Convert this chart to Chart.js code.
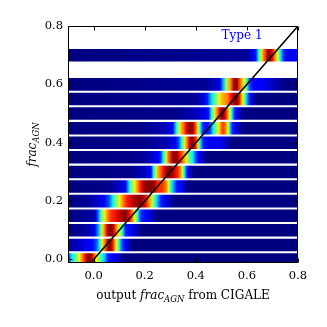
<!DOCTYPE html>
<html>
<head>
<meta charset="utf-8">
<script src="https://cdn.jsdelivr.net/npm/chart.js@4/dist/chart.umd.min.js"></script>
<style>
  html, body { margin: 0; padding: 0; background: #ffffff; }
  #wrap { width: 327px; height: 327px; }
</style>
</head>
<body>
<div id="wrap"><canvas id="c" width="327" height="327"></canvas></div>
<script>
// ---- data ----
// input frac_AGN of each strip
const stripLevels = [0.0, 0.05, 0.10, 0.15, 0.20, 0.25, 0.30, 0.35, 0.40, 0.45, 0.50, 0.55, 0.60, 0.70];

// each strip: [output frac_AGN, normalised likelihood] control points
const strip00 = [[-0.1,0.12],[-0.093,0.25],[-0.085,0.36],[-0.075,0.4],[-0.065,0.55],[-0.055,0.65],[-0.045,0.77],[-0.035,0.88],[-0.025,0.97],[-0.015,1.0],[-0.005,0.92],[0.003,0.8],[0.012,0.65],[0.022,0.5],[0.032,0.38],[0.042,0.33],[0.055,0.15],[0.075,0.11],[0.09,0.08],[0.11,0.02],[0.13,0],[0.8,0]];
const strip05 = [[-0.1,0.02],[-0.07,0.05],[-0.03,0.1],[-0.005,0.13],[0.01,0.2],[0.023,0.36],[0.033,0.62],[0.045,0.8],[0.055,0.95],[0.062,1.0],[0.07,0.95],[0.078,0.85],[0.088,0.64],[0.1,0.4],[0.112,0.2],[0.125,0.12],[0.14,0.05],[0.15,0],[0.8,0]];
const strip10 = [[-0.1,0],[-0.05,0.02],[-0.01,0.05],[0.005,0.12],[0.02,0.3],[0.03,0.55],[0.04,0.72],[0.047,0.85],[0.057,0.97],[0.065,1.0],[0.075,0.97],[0.083,0.88],[0.09,0.75],[0.1,0.6],[0.108,0.5],[0.115,0.36],[0.125,0.15],[0.15,0.1],[0.175,0.03],[0.19,0],[0.8,0]];
const strip15 = [[-0.1,0],[0.0,0.03],[0.01,0.1],[0.022,0.3],[0.03,0.45],[0.042,0.64],[0.055,0.77],[0.068,0.86],[0.09,0.9],[0.11,0.97],[0.125,1.0],[0.14,0.9],[0.15,0.8],[0.16,0.64],[0.172,0.38],[0.186,0.16],[0.21,0.12],[0.23,0.05],[0.25,0],[0.8,0]];
const strip20 = [[-0.1,0],[-0.02,0.02],[0.01,0.06],[0.04,0.1],[0.06,0.2],[0.075,0.36],[0.088,0.5],[0.101,0.64],[0.115,0.77],[0.13,0.88],[0.155,0.95],[0.18,1.0],[0.2,0.93],[0.21,0.85],[0.22,0.72],[0.232,0.55],[0.245,0.36],[0.26,0.18],[0.275,0.11],[0.3,0.04],[0.32,0],[0.8,0]];
const strip25 = [[-0.1,0],[0.06,0.01],[0.1,0.06],[0.125,0.13],[0.14,0.36],[0.153,0.55],[0.16,0.64],[0.173,0.77],[0.183,0.88],[0.2,0.98],[0.22,1.0],[0.238,0.97],[0.25,0.88],[0.27,0.85],[0.284,0.77],[0.292,0.64],[0.3,0.45],[0.31,0.32],[0.325,0.15],[0.345,0.1],[0.37,0],[0.8,0]];
const strip30 = [[-0.1,0],[0.15,0.01],[0.2,0.06],[0.225,0.13],[0.234,0.36],[0.245,0.6],[0.258,0.77],[0.271,0.88],[0.285,0.97],[0.3,1.0],[0.315,0.93],[0.33,0.87],[0.34,0.75],[0.347,0.62],[0.356,0.36],[0.366,0.14],[0.38,0.05],[0.39,0],[0.8,0]];
const strip35 = [[-0.1,0],[0.18,0.01],[0.22,0.05],[0.255,0.12],[0.264,0.2],[0.272,0.36],[0.284,0.62],[0.297,0.85],[0.31,0.97],[0.322,1.0],[0.336,0.9],[0.348,0.8],[0.362,0.66],[0.375,0.45],[0.388,0.36],[0.4,0.2],[0.41,0.12],[0.425,0.06],[0.44,0],[0.8,0]];
const strip40 = [[-0.1,0],[0.19,0.01],[0.28,0.04],[0.32,0.1],[0.333,0.2],[0.343,0.36],[0.356,0.62],[0.365,0.77],[0.373,0.9],[0.383,1.0],[0.393,0.95],[0.402,0.85],[0.408,0.65],[0.417,0.36],[0.43,0.14],[0.46,0.1],[0.49,0.11],[0.515,0.06],[0.545,0],[0.8,0]];
const strip45 = [[-0.1,0],[0.19,0.01],[0.28,0.05],[0.31,0.12],[0.323,0.36],[0.336,0.62],[0.349,0.77],[0.362,0.9],[0.375,1.0],[0.388,0.97],[0.395,0.88],[0.402,0.77],[0.408,0.62],[0.417,0.38],[0.428,0.15],[0.445,0.14],[0.458,0.2],[0.467,0.36],[0.48,0.5],[0.488,0.64],[0.499,0.78],[0.506,0.86],[0.516,0.77],[0.526,0.62],[0.532,0.38],[0.543,0.15],[0.56,0.08],[0.58,0.01],[0.6,0],[0.8,0]];
const strip50 = [[-0.1,0],[0.32,0.01],[0.40,0.05],[0.44,0.1],[0.45,0.15],[0.462,0.38],[0.473,0.62],[0.486,0.8],[0.495,0.93],[0.505,1.0],[0.515,0.92],[0.525,0.77],[0.532,0.62],[0.541,0.38],[0.552,0.15],[0.565,0.08],[0.58,0.02],[0.6,0],[0.8,0]];
const strip55 = [[-0.1,0],[0.40,0.02],[0.43,0.08],[0.445,0.15],[0.46,0.33],[0.475,0.45],[0.49,0.62],[0.505,0.72],[0.525,0.78],[0.535,0.88],[0.55,0.97],[0.56,1.0],[0.57,0.9],[0.583,0.65],[0.595,0.38],[0.61,0.15],[0.625,0.05],[0.64,0],[0.8,0]];
const strip60 = [[-0.1,0],[0.44,0.02],[0.48,0.06],[0.495,0.12],[0.507,0.3],[0.52,0.55],[0.535,0.75],[0.548,0.95],[0.56,1.0],[0.57,0.85],[0.58,0.72],[0.59,0.62],[0.60,0.4],[0.612,0.18],[0.625,0.12],[0.66,0.11],[0.69,0.07],[0.73,0.02],[0.76,0],[0.8,0]];
const strip70 = [[-0.1,0],[0.60,0.02],[0.625,0.1],[0.635,0.15],[0.645,0.36],[0.655,0.62],[0.668,0.8],[0.68,0.95],[0.69,1.0],[0.70,0.9],[0.71,0.75],[0.72,0.6],[0.73,0.38],[0.745,0.15],[0.76,0.12],[0.8,0.1]];
const strips = [strip00, strip05, strip10, strip15, strip20, strip25, strip30, strip35, strip40, strip45, strip50, strip55, strip60, strip70];

// one-to-one line
const diagX = [-0.012, 0.8];
const diagY = [-0.012, 0.8];

// axes
const xRange = [-0.1, 0.8];
const yRange = [-0.012, 0.8];
const xTickValues = [0.0, 0.2, 0.4, 0.6, 0.8];
const xTickLabels = ['0.0', '0.2', '0.4', '0.6', '0.8'];
const yTickValues = [0.0, 0.2, 0.4, 0.6, 0.8];
const yTickLabels = ['0.0', '0.2', '0.4', '0.6', '0.8'];
const annotation = { text: 'Type 1', x: 0.581, y: 0.766 };

// ---- jet colormap ----
const JR = [[0,0],[0.35,0],[0.66,1],[0.89,1],[1,0.5]];
const JG = [[0,0],[0.125,0],[0.375,1],[0.64,1],[0.91,0],[1,0]];
const JB = [[0,0.5],[0.11,1],[0.34,1],[0.65,0],[1,0]];
function seg(p, v) {
  for (let i = 1; i < p.length; i++) {
    if (v <= p[i][0]) {
      const t = (v - p[i-1][0]) / (p[i][0] - p[i-1][0]);
      return p[i-1][1] + t * (p[i][1] - p[i-1][1]);
    }
  }
  return p[p.length-1][1];
}
function jet(v) {
  v = Math.max(0, Math.min(1, v));
  return 'rgb(' + Math.round(255*seg(JR,v)) + ',' + Math.round(255*seg(JG,v)) + ',' + Math.round(255*seg(JB,v)) + ')';
}

const FONT = "'DejaVu Serif', 'Liberation Serif', serif";

function stripColor(ctx) {
  const chart = ctx.chart;
  const xs = chart.scales && chart.scales.x;
  if (ctx.type !== 'data' || !xs) return '#00007f';
  const x0 = xs.getPixelForValue(xRange[0]);
  const x1 = xs.getPixelForValue(xRange[1]);
  if (!isFinite(x0) || !isFinite(x1) || x1 === x0) return '#00007f';
  const g = chart.ctx.createLinearGradient(x0, 0, x1, 0);
  const pts = strips[ctx.dataIndex];
  pts.forEach(([x, v]) => {
    const off = Math.max(0, Math.min(1, (x - xRange[0]) / (xRange[1] - xRange[0])));
    g.addColorStop(off, jet(v));
  });
  return g;
}

// frame, inside ticks, axis titles and annotation
const decor = {
  id: 'decor',
  afterDatasetsDraw(chart) {
    const c = chart.ctx, a = chart.chartArea;
    const xs = chart.scales.x, ys = chart.scales.y;
    c.save();
    c.strokeStyle = '#000';
    c.lineWidth = 1;
    const L = Math.round(a.left) + 0.5, R = Math.round(a.right) - 0.5;
    const T = Math.round(a.top) + 0.5, B = Math.round(a.bottom) - 0.5;
    c.strokeRect(L, T, R - L, B - T);
    const tl = 4;
    c.beginPath();
    xTickValues.forEach(v => {
      const px = Math.round(xs.getPixelForValue(v)) + 0.5;
      c.moveTo(px, B); c.lineTo(px, B - tl);
      c.moveTo(px, T); c.lineTo(px, T + tl);
    });
    yTickValues.forEach(v => {
      const py = Math.round(ys.getPixelForValue(v)) + 0.5;
      c.moveTo(L, py); c.lineTo(L + tl, py);
      c.moveTo(R, py); c.lineTo(R - tl, py);
    });
    c.stroke();

    // annotation
    c.fillStyle = '#0000ff';
    c.font = '12px ' + FONT;
    c.textAlign = 'center';
    c.textBaseline = 'middle';
    c.fillText(annotation.text, xs.getPixelForValue(annotation.x), ys.getPixelForValue(annotation.y));

    // axis titles with subscripts
    function drawParts(parts, cx, baseline) {
      let w = 0;
      parts.forEach(p => { c.font = p.f; w += c.measureText(p.t).width; });
      let x = cx - w / 2;
      c.textAlign = 'left';
      c.textBaseline = 'alphabetic';
      parts.forEach(p => {
        c.font = p.f;
        c.fillText(p.t, x, baseline + (p.dy || 0));
        x += c.measureText(p.t).width;
      });
    }
    c.fillStyle = '#000';
    const reg = '12px ' + FONT, it = 'italic 12px ' + FONT, sub = 'italic 8.5px ' + FONT;
    drawParts([
      { t: 'output ', f: reg },
      { t: 'frac', f: it },
      { t: 'AGN', f: sub, dy: 3 },
      { t: ' from CIGALE', f: reg }
    ], (a.left + a.right) / 2, 299);

    c.save();
    c.translate(36, (a.top + a.bottom) / 2);
    c.rotate(-Math.PI / 2);
    drawParts([
      { t: 'frac', f: it },
      { t: 'AGN', f: sub, dy: 3 }
    ], 0, 0);
    c.restore();
    c.restore();
  }
};

new Chart(document.getElementById('c'), {
  type: 'bar',
  data: {
    datasets: [
      {
        type: 'line',
        indexAxis: 'x',
        data: diagX.map((x, i) => ({ x: x, y: diagY[i] })),
        borderColor: '#000',
        borderWidth: 1.5,
        pointRadius: 0,
        fill: false,
        order: 0
      },
      {
        type: 'bar',
        indexAxis: 'y',
        data: stripLevels.map(v => ({ y: v, x: [xRange[0], xRange[1]] })),
        backgroundColor: stripColor,
        borderWidth: 0,
        categoryPercentage: 1.0,
        barPercentage: 0.86,
        order: 1
      }
    ]
  },
  options: {
    responsive: false,
    animation: false,
    events: [],
    layout: { padding: { left: 0, top: 26, right: 29, bottom: 0 } },
    plugins: { legend: { display: false }, tooltip: { enabled: false } },
    scales: {
      x: {
        type: 'linear', position: 'bottom', offset: false,
        min: xRange[0], max: xRange[1],
        grid: { display: false, drawTicks: false, offset: false },
        border: { display: false },
        afterBuildTicks: s => { s.ticks = xTickValues.map(v => ({ value: v })); },
        afterFit: s => { s.height = 64; },
        ticks: {
          padding: 6, color: '#000', maxRotation: 0, autoSkip: false,
          font: { family: FONT, size: 11.5 },
          callback: (v) => { const i = xTickValues.findIndex(t => Math.abs(t - v) < 1e-9); return i >= 0 ? xTickLabels[i] : ''; }
        }
      },
      y: {
        type: 'linear', position: 'left', offset: false,
        min: yRange[0], max: yRange[1],
        grid: { display: false, drawTicks: false, offset: false },
        border: { display: false },
        afterBuildTicks: s => { s.ticks = yTickValues.map(v => ({ value: v })); },
        afterFit: s => { s.width = 68; },
        ticks: {
          padding: 5, color: '#000', autoSkip: false,
          font: { family: FONT, size: 11.5 },
          callback: (v) => { const i = yTickValues.findIndex(t => Math.abs(t - v) < 1e-9); return i >= 0 ? yTickLabels[i] : ''; }
        }
      }
    }
  },
  plugins: [decor]
});
</script>
</body>
</html>
